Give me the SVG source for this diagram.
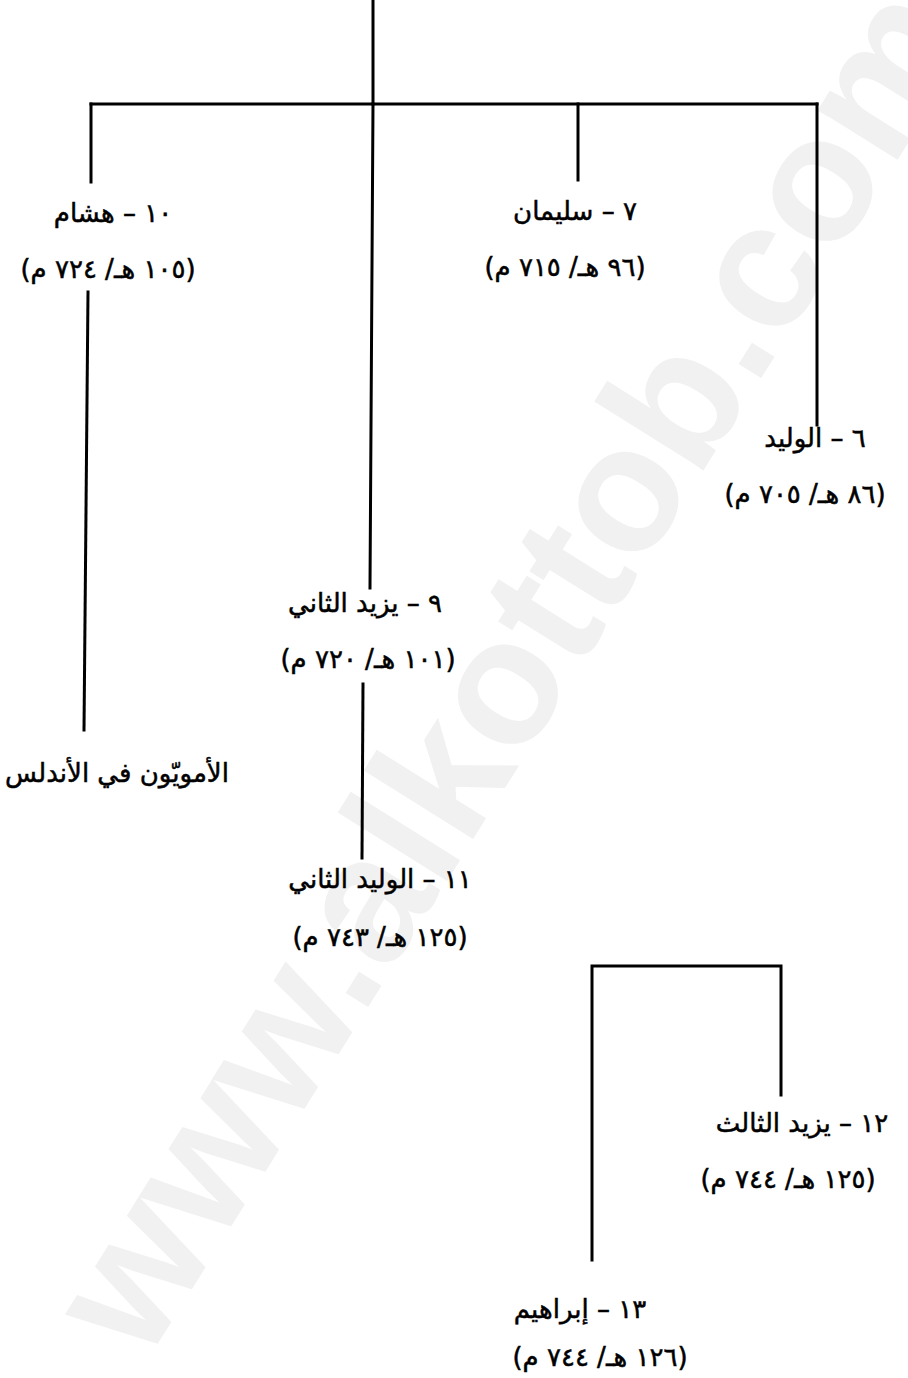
<svg xmlns="http://www.w3.org/2000/svg" width="908" height="1378" viewBox="0 0 908 1378">
<style>
.ln{stroke:#000;stroke-width:3;fill:none;stroke-linecap:square}
.t{font-family:"DejaVu Sans",sans-serif;font-size:26px;fill:#000;stroke:#000;stroke-width:0.5;text-anchor:middle;direction:rtl;unicode-bidi:embed}
.wm{font-family:"Liberation Sans",sans-serif;font-size:178px;font-weight:bold;fill:#f1f1f1}
</style>
<rect width="908" height="1378" fill="#fff"/>
<text class="wm" transform="translate(560,700) rotate(-58)" text-anchor="middle">www.alkottob.com</text>
<g id="connectors">
<path class="ln" d="M373,0 V104"/>
<path class="ln" d="M91,104 H817"/>
<path class="ln" d="M91,104 V182"/>
<path class="ln" d="M578,104 V180"/>
<path class="ln" d="M817,104 V425"/>
<path class="ln" d="M373,104 L370,588"/>
<path class="ln" d="M88,292 L84,730"/>
<path class="ln" d="M363,684 L362,858"/>
<path class="ln" d="M592,1260 V966 H781 V1095"/>
</g>
<g id="n10"><text class="t" x="113" y="222">١٠ – هشام</text><text class="t" x="108" y="278">(١٠٥ هـ/ ٧٢٤ م)</text></g>
<g id="n7"><text class="t" x="575" y="220">٧ – سليمان</text><text class="t" x="565" y="276">(٩٦ هـ/ ٧١٥ م)</text></g>
<g id="n6"><text class="t" x="815" y="447">٦ – الوليد</text><text class="t" x="805" y="503">(٨٦ هـ/ ٧٠٥ م)</text></g>
<g id="n9"><text class="t" x="365" y="612">٩ – يزيد الثاني</text><text class="t" x="368" y="668">(١٠١ هـ/ ٧٢٠ م)</text></g>
<g id="andalus"><text class="t" x="117" y="782">الأمويّون في الأندلس</text></g>
<g id="n11"><text class="t" x="380" y="888">١١ – الوليد الثاني</text><text class="t" x="380" y="946">(١٢٥ هـ/ ٧٤٣ م)</text></g>
<g id="n12"><text class="t" x="802" y="1132">١٢ – يزيد الثالث</text><text class="t" x="788" y="1188">(١٢٥ هـ/ ٧٤٤ م)</text></g>
<g id="n13"><text class="t" x="580" y="1318">١٣ – إبراهيم</text><text class="t" x="600" y="1366">(١٢٦ هـ/ ٧٤٤ م)</text></g>
</svg>
